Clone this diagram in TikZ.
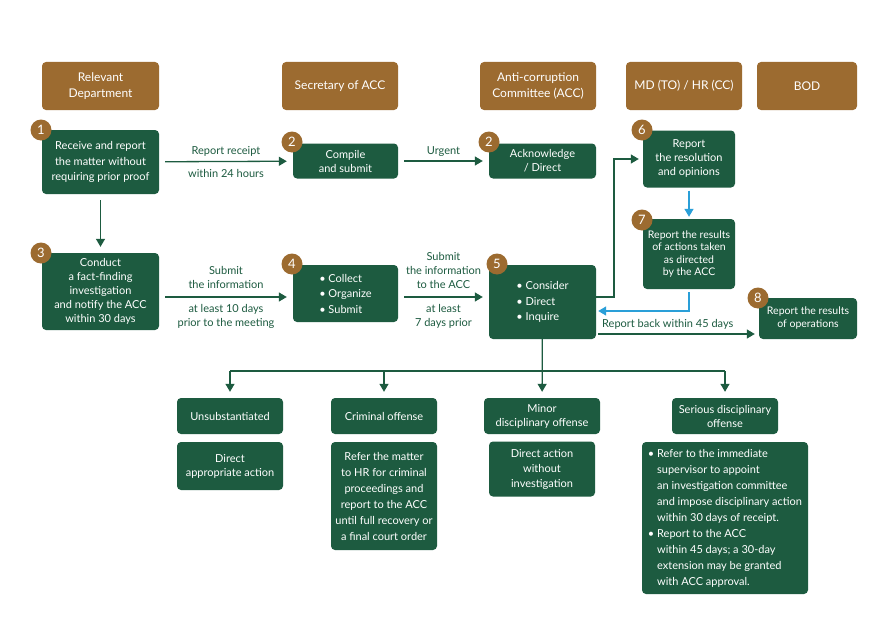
\documentclass[tikz,border=0pt]{standalone}
\usepackage{fontspec}
\setmainfont{Lato}
\usetikzlibrary{arrows.meta}
\definecolor{hdrbrown}{HTML}{9C6B30}
\definecolor{boxgreen}{HTML}{1D5B40}
\definecolor{linkblue}{HTML}{2A9FD8}
\newcommand{\bl}{\textbullet~}
\newcommand{\hang}{\hphantom{\textbullet~}}

\begin{document}
\begin{tikzpicture}[x=1pt,y=-1pt,
  every node/.style={font=\fontsize{11}{14}\selectfont},
  hdr/.style={fill=hdrbrown,rounded corners=4pt,text=white,align=center,minimum width=117pt,minimum height=48pt,inner sep=2pt,font=\fontsize{12}{16}\selectfont},
  stepbox/.style={fill=boxgreen,rounded corners=4pt,text=white,align=center,inner sep=2pt},
  badge/.style={circle,fill=hdrbrown,text=white,minimum size=21pt,inner sep=0pt,font=\fontsize{13}{13}\selectfont},
  flow/.style={draw=boxgreen,line width=1.3pt,-{Triangle[length=8pt,width=9pt]},shorten <=6pt,shorten >=6pt},
  back/.style={draw=linkblue,line width=1.3pt,-{Triangle[length=8pt,width=9pt]},shorten <=3pt,shorten >=2pt},
  lbl/.style={text=boxgreen,align=center}]
\fill[white] (0,0) rectangle (886,626);
\useasboundingbox (0,0) rectangle (886,626);

\node[hdr] (hdept) at (100.5,86) {Relevant\\Department};
\node[hdr,minimum width=116pt] (hsec) at (340,86) {Secretary of ACC};
\node[hdr,minimum width=116pt] (hacc) at (538,86) {Anti-corruption\\Committee (ACC)};
\node[hdr,minimum width=116pt] (hmd) at (684,86) {MD (TO) / HR (CC)};
\node[hdr,minimum width=100pt] (hbod) at (807,86) {BOD};

\node[stepbox,minimum width=117pt,minimum height=64pt,font=\fontsize{11}{15.5}\selectfont] (s1) at (100.5,162) {Receive and report\\the matter without\\requiring prior proof};
\node[stepbox,minimum width=105pt,minimum height=35pt] (s2) at (345.5,161) {Compile\\and submit};
\node[stepbox,minimum width=107pt,minimum height=35pt] (s2b) at (542.5,161) {Acknowledge\\/ Direct};
\node[stepbox,minimum width=92pt,minimum height=57pt] (s6) at (689,159) {Report\\the resolution\\and opinions};
\node[stepbox,minimum width=92pt,minimum height=70pt,font=\fontsize{10.5}{12.5}\selectfont] (s7) at (689,254) {Report the results\\of actions taken\\as directed\\by the ACC};
\node[stepbox,minimum width=117pt,minimum height=77pt] (s3) at (100.5,291.5) {Conduct\\a fact-finding\\investigation\\and notify the ACC\\within 30 days};
\node[stepbox,minimum width=105pt,minimum height=57pt,align=left,font=\fontsize{11}{15.5}\selectfont] (s4) at (345.5,293.5) {\bl Collect\\\bl Organize\\\bl Submit};
\node[stepbox,minimum width=107pt,minimum height=74pt,align=left,font=\fontsize{11}{15.5}\selectfont] (s5) at (542.5,302) {\bl Consider\\\bl Direct\\\bl Inquire};
\node[stepbox,minimum width=98pt,minimum height=41pt,font=\fontsize{10.5}{13}\selectfont] (s8) at (808,318.5) {Report the results\\of operations};

\node[badge] (b1) at (41,130) {1};
\node[badge] (b2) at (292,142) {2};
\node[badge] (b2b) at (489,142) {2};
\node[badge] (b6) at (642,130) {6};
\node[badge] (b7) at (642,220) {7};
\node[badge] (b3) at (41,253) {3};
\node[badge] (b4) at (292,264) {4};
\node[badge] (b5) at (497,264) {5};
\node[badge] (b8) at (758,298) {8};

\node[stepbox,minimum width=106pt,minimum height=36pt] (unsub) at (230,416) {Unsubstantiated};
\node[stepbox,minimum width=106pt,minimum height=48pt] (unsubact) at (230,466) {Direct\\appropriate action};
\node[stepbox,minimum width=106pt,minimum height=36pt] (crim) at (384,416) {Criminal offense};
\node[stepbox,minimum width=106pt,minimum height=108pt,font=\fontsize{11}{16}\selectfont] (crimact) at (384,496) {Refer the matter\\to HR for criminal\\proceedings and\\report to the ACC\\until full recovery or\\a final court order};
\node[stepbox,minimum width=116pt,minimum height=36pt] (minor) at (542,416) {Minor\\disciplinary offense};
\node[stepbox,minimum width=106pt,minimum height=55pt,font=\fontsize{11}{15}\selectfont] (minoract) at (542,469) {Direct action\\without\\investigation};
\node[stepbox,minimum width=106pt,minimum height=36pt] (serious) at (725,416) {Serious disciplinary\\offense};
\node[stepbox,minimum width=166pt,minimum height=152pt,align=left,font=\fontsize{11}{16}\selectfont] (seriousact) at (725,518) {\bl Refer to the immediate\\\hang supervisor to appoint\\\hang an investigation committee\\\hang and impose disciplinary action\\\hang within 30 days of receipt.\\\bl Report to the ACC\\\hang within 45 days; a 30-day\\\hang extension may be granted\\\hang with ACC approval.};

\coordinate (row) at (0,297);
\coordinate (turn) at (614,297);
\coordinate (ret) at (689,311);
\coordinate (rb) at (598,334);
\coordinate (split) at (542,371);

\draw[flow] (s1) -- (s2) node[lbl,midway,above=1pt] {Report receipt} node[lbl,midway,below=4pt] {within 24 hours};
\draw[flow] (s2) -- (s2b) node[lbl,midway,above=1pt] {Urgent};
\draw[flow] (s1) -- (s3);
\draw[flow] (s3.east |- row) -- (s4.west |- row) node[lbl,midway,above=4pt] {Submit\\the information} node[lbl,midway,below=3pt] {at least 10 days\\prior to the meeting};
\draw[flow] (s4.east |- row) -- (s5.west |- row) node[lbl,midway,above=4pt] {Submit\\the information\\to the ACC} node[lbl,midway,below=3pt] {at least\\7 days prior};
\draw[flow,shorten <=0pt,shorten >=4pt] (s5.east |- turn) -- (turn) |- (s6);
\draw[back] (s6) -- (s7);
\draw[back] (s7) |- (s5.east |- ret);
\draw[flow,shorten <=2pt,shorten >=4pt] (s5.east |- rb) -- (s8.west |- rb) node[lbl,pos=0.44,above=1pt] {Report back within 45 days};

\draw[flow,shorten <=0pt] (s5) -- (minor);
\draw[boxgreen,line width=1.3pt] (unsub.north |- split) -- (serious.north |- split);
\foreach \n in {unsub,crim,serious}
  \draw[flow,shorten <=0pt] (\n.north |- split) -- (\n);
\end{tikzpicture}
\end{document}
